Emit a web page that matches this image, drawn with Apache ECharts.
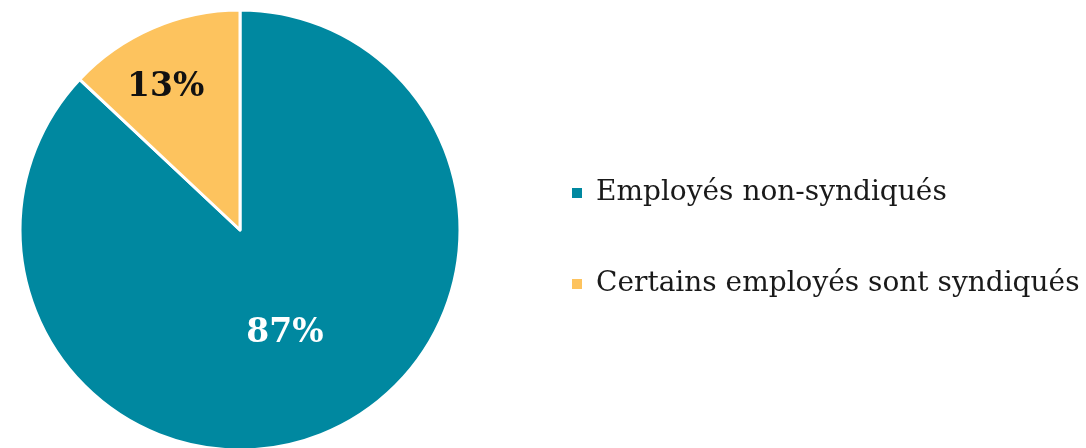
<!DOCTYPE html>
<html><head><meta charset="utf-8">
<script src="https://cdn.jsdelivr.net/npm/echarts@6/dist/echarts.min.js"></script>
<style>html,body{margin:0;padding:0;background:#fff}#c{width:1086px;height:448px}</style>
</head><body><div id="c"></div>
<script>
const categories = ['Employés non-syndiqués', 'Certains employés sont syndiqués'];
const values = [87, 13];
const colors = ['#0088A0', '#FDC35E'];
const labelColors = ['#ffffff', '#111111'];

const chart = echarts.init(document.getElementById('c'));
const font = 'DejaVu Serif';
const mkData = (showIdx, hidden) => categories.map((n, i) => ({
  name: n, value: values[i],
  itemStyle: { color: hidden ? 'rgba(0,0,0,0)' : colors[i] },
  label: { show: i === showIdx, color: labelColors[i], padding: hidden ? [0, 25, 0, 0] : 0 }
}));
chart.setOption({
  animation: false,
  legend: {
    orient: 'vertical', left: 565, top: 173,
    itemWidth: 12, itemHeight: 12, itemGap: 61, icon: 'rect',
    textStyle: { fontFamily: font, fontSize: 28, lineHeight: 30, color: '#1a1a1a', padding: [0, 0, 0, 8] },
    data: categories
  },
  series: [{
    type: 'pie', center: [240, 230], radius: [0, 220],
    startAngle: 90, clockwise: true,
    itemStyle: { borderColor: '#fff', borderWidth: 3 },
    label: { position: 'inside', fontFamily: font, fontSize: 33, fontWeight: 'bold', formatter: '{c}%' },
    labelLine: { show: false },
    emphasis: { disabled: true },
    data: mkData(0, false)
  }, {
    type: 'pie', center: [240, 230], radius: [0, 305],
    startAngle: 90, clockwise: true, silent: true, legendHoverLink: false,
    itemStyle: { borderWidth: 0 },
    label: { position: 'inside', fontFamily: font, fontSize: 33, fontWeight: 'bold', formatter: '{c}%' },
    labelLine: { show: false },
    emphasis: { disabled: true },
    data: mkData(1, true)
  }]
});
</script></body></html>
